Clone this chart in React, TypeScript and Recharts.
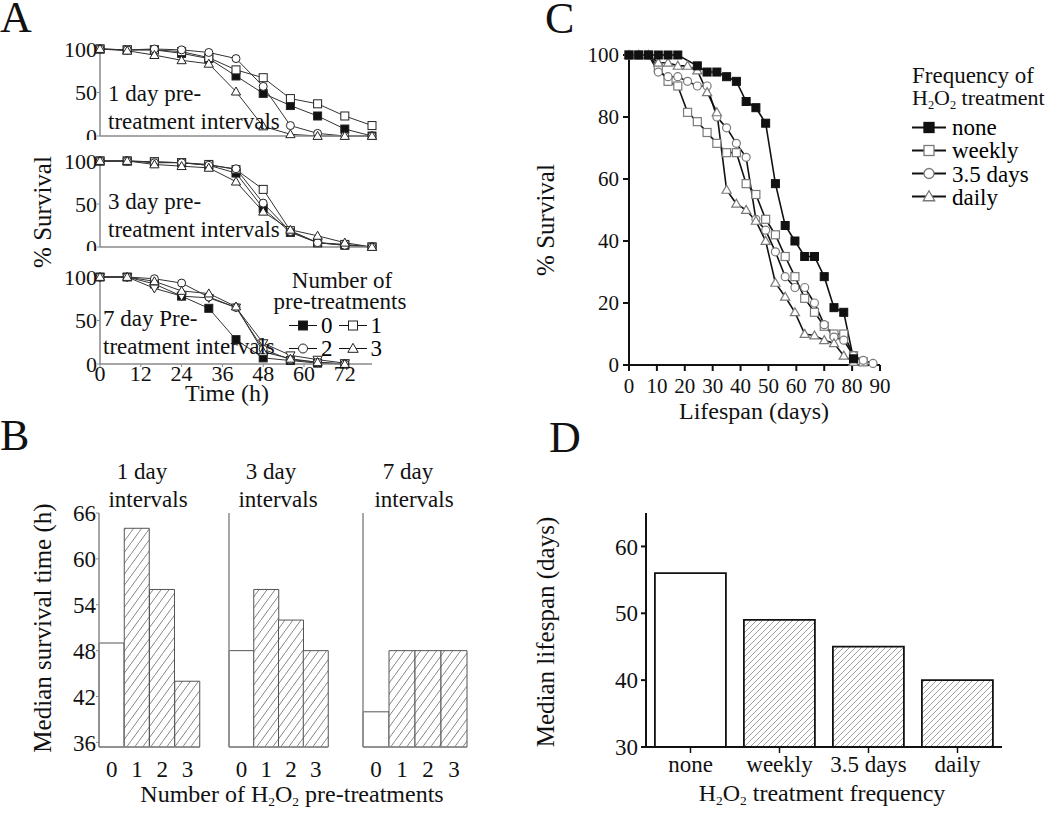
import React from "react";
import { LineChart, Line, BarChart, Bar, Cell, XAxis, YAxis } from "recharts";

const FONT = "'Liberation Serif', 'Times New Roman', serif";

// ---- Panel A: survival after H2O2 pre-treatments (time in h) ----
const hoursA = [0, 8, 16, 24, 32, 40, 48, 56, 64, 72, 80];
const hoursA7 = [0, 8, 16, 24, 32, 40, 48, 56, 64, 72];
const hourTicks = [0, 12, 24, 36, 48, 60, 72];

const day1None = [100, 99, 99, 95, 89, 69, 49, 35, 23, 8, 0];
const day1One = [100, 99, 99, 97, 90, 76, 67, 43, 37, 23, 12];
const day1Two = [100, 99, 100, 99, 96, 89, 57, 12, 3, 0, 0];
const day1Three = [100, 98, 93, 87, 83, 51, 11, 2, 0, 0, 0];

const day3None = [100, 100, 99, 98, 95, 86, 45, 17, 5, 2, 0];
const day3One = [100, 100, 99, 98, 96, 90, 67, 19, 5, 3, 0];
const day3Two = [100, 100, 98, 98, 95, 91, 51, 18, 5, 2, 0];
const day3Three = [100, 100, 96, 94, 92, 76, 41, 20, 13, 5, 0];

const day7None = [100, 100, 92, 78, 64, 28, 7, 4, 1, 0];
const day7One = [100, 100, 87, 78, 76, 65, 24, 10, 5, 1];
const day7Two = [100, 100, 98, 93, 77, 65, 17, 5, 2, 0];
const day7Three = [100, 100, 95, 84, 81, 66, 14, 6, 2, 0];

// ---- Panel B: median survival time (h) ----
const pretreatCats = ["0", "1", "2", "3"];
const median1Day = [49, 64, 56, 44];
const median3Day = [48, 56, 52, 48];
const median7Day = [40, 48, 48, 48];
const medianTicks = [36, 42, 48, 54, 60, 66];

// ---- Panel C: lifespan survival (days) ----
const daysC = [0, 3.5, 7, 10.5, 14, 17.5, 21, 24.5, 28, 31.5, 35, 38.5, 42, 45.5, 49, 52.5, 56, 59.5, 63, 66.5, 70, 73.5, 77, 80.5, 84, 87.5];
const noneC = [100, 100, 100, 100, 100, 100, null, 96.5, 94.5, 94.5, 93, 91.5, 85, 83, 78, 58.5, 45, 40, 35, 35, 28.5, 18.5, 17, 2, null, null];
const weeklyC = [100, 100, 100, 96, 91.5, 90, 81.5, 78.5, 75, 71.5, 68.5, 68.5, 58.5, 55, 47, 42, 35, 28.5, 21.5, 17, 12.5, 10, 10, 3, 1, null];
const halfWeekC = [100, 100, 100, 94.5, 93, 93, 91.5, 90, 90, 80, 76.5, 71.5, 67, 47, 43.5, 36.5, 28.5, 25, 25, 20, 13, 9, 8, 3, 1.5, 0.5];
const dailyC = [100, 100, 100, 97.5, 97.5, 96.5, 96.5, 95, 88, 81.5, 56.5, 52, 50, 46.5, 40, 26.5, 22, 17, 10, 9.5, 8, 7, 3, 1, null, null];
const dayTicks = [0, 10, 20, 30, 40, 50, 60, 70, 80, 90];
const survTicks = [0, 20, 40, 60, 80, 100];

// ---- Panel D: median lifespan (days) ----
const freqCats = ["none", "weekly", "3.5 days", "daily"];
const medianLifespan = [56, 49, 45, 40];

const GRAY_AX = "#8a8a8a";

type Shape = "square" | "circle" | "triangle" | "triangleDown";

function Marker({ cx, cy, shape, size, fill, stroke, sw }: any) {
  if (cx == null || cy == null || isNaN(cx) || isNaN(cy)) return null;
  const h = size / 2;
  if (shape === "square")
    return <rect x={cx - h} y={cy - h} width={size} height={size} fill={fill} stroke={stroke} strokeWidth={sw} />;
  if (shape === "circle") return <circle cx={cx} cy={cy} r={h} fill={fill} stroke={stroke} strokeWidth={sw} />;
  const up = shape === "triangle" ? 1 : -1;
  const pts = `${cx},${cy - up * h * 1.15} ${cx + h * 1.15},${cy + up * h * 0.85} ${cx - h * 1.15},${cy + up * h * 0.85}`;
  return <polygon points={pts} fill={fill} stroke={stroke} strokeWidth={sw} />;
}

const dotOf = (shape: Shape, size: number, fill: string, stroke: string, sw: number) => (p: any) => (
  <Marker key={`${p.dataKey}-${p.index}`} cx={p.cx} cy={p.cy} shape={shape} size={size} fill={fill} stroke={stroke} sw={sw} />
);

function Txt({ x, y, size = 23, anchor = "middle", rotate = false, children }: any) {
  const tx = anchor === "middle" ? "-50%" : anchor === "end" ? "-100%" : "0";
  return (
    <div
      style={{
        position: "absolute",
        left: x,
        top: y,
        transform: `translate(${tx}, -50%)${rotate ? " rotate(-90deg)" : ""}`,
        fontFamily: FONT,
        fontSize: size,
        lineHeight: 1,
        whiteSpace: "nowrap",
        color: "#111",
      }}
    >
      {children}
    </div>
  );
}

const Sub = ({ children }: any) => (
  <sub style={{ fontSize: "0.56em", verticalAlign: "-0.3em", lineHeight: 0 }}>{children}</sub>
);

function Sample({ shape, fill, stroke, sw, size, w = 30, lineW = 1 }: any) {
  return (
    <svg width={w} height={16} style={{ display: "block" }}>
      <line x1={0} y1={8} x2={w} y2={8} stroke="#111" strokeWidth={lineW} />
      <Marker cx={w / 2} cy={8} shape={shape} size={size} fill={fill} stroke={stroke} sw={sw} />
    </svg>
  );
}

// Panel A subplot
const A_LEFT = 100;
const A_W = 272;
const A_YW = 40;

type SeriesDef = { key: string; shape: Shape; fill: string };

const seriesA: SeriesDef[] = [
  { key: "s0", shape: "square", fill: "#111" },
  { key: "s1", shape: "square", fill: "#fff" },
  { key: "s2", shape: "circle", fill: "#fff" },
  { key: "s3", shape: "triangle", fill: "#fff" },
];

function SurvivalA({ rows, top, bottom, series, showTime }: any) {
  const plotH = bottom - top;
  const xh = showTime ? 30 : 4;
  const mt = 10;
  const tickStyle = { fontSize: 22, fontFamily: FONT, fill: "#111" };
  return (
    <div style={{ position: "absolute", left: A_LEFT - A_YW, top: top - mt }}>
      <LineChart
        width={A_YW + A_W + 12}
        height={mt + plotH + xh}
        data={rows}
        margin={{ top: mt, right: 12, bottom: 0, left: 0 }}
      >
        <XAxis
          type="number"
          dataKey="t"
          domain={[0, 80]}
          ticks={hourTicks}
          interval={0}
          height={xh}
          axisLine={{ stroke: GRAY_AX, strokeWidth: 1.5 }}
          tickLine={{ stroke: GRAY_AX }}
          tickSize={3}
          tickMargin={-2}
          tick={showTime ? tickStyle : false}
        />
        <YAxis
          type="number"
          domain={[0, 100]}
          ticks={[0, 50, 100]}
          interval={0}
          width={A_YW}
          axisLine={{ stroke: GRAY_AX, strokeWidth: 1.5 }}
          tickLine={{ stroke: GRAY_AX }}
          tickSize={3}
          tickMargin={0}
          tick={tickStyle}
        />
        {series.map((s: SeriesDef) => (
          <Line
            key={s.key}
            dataKey={s.key}
            stroke="#333"
            strokeWidth={1}
            connectNulls
            dot={dotOf(s.shape, 8, s.fill, "#222", 1)}
            activeDot={false}
            isAnimationActive={false}
          />
        ))}
      </LineChart>
    </div>
  );
}

// Panel B subplot
const B_TOP = 513;
const B_H = 234;

function MedianB({ values, left, width, showLabels }: any) {
  const rows = pretreatCats.map((n, i) => ({ n, v: values[i] }));
  const yw = showLabels ? 40 : 8;
  const mt = 14;
  const tickStyle = { fontSize: 23, fontFamily: FONT, fill: "#111" };
  return (
    <div style={{ position: "absolute", left: left - yw, top: B_TOP - mt }}>
      <BarChart
        width={yw + width + 2}
        height={mt + B_H + 34}
        data={rows}
        margin={{ top: mt, right: 2, bottom: 0, left: 0 }}
        barCategoryGap={0}
      >
        <XAxis
          dataKey="n"
          height={34}
          axisLine={{ stroke: GRAY_AX, strokeWidth: 1.5 }}
          tickLine={false}
          tickMargin={8}
          interval={0}
          tick={tickStyle}
        />
        <YAxis
          type="number"
          domain={[35.4, 66]}
          ticks={medianTicks}
          interval={0}
          width={yw}
          axisLine={{ stroke: GRAY_AX, strokeWidth: 1.5 }}
          tickLine={{ stroke: GRAY_AX }}
          tickSize={3}
          tickMargin={0}
          tick={showLabels ? tickStyle : false}
        />
        <Bar dataKey="v" stroke="#555" strokeWidth={1} isAnimationActive={false}>
          {rows.map((r, i) => (
            <Cell key={r.n} fill={i === 0 ? "#fff" : "url(#hatchB)"} />
          ))}
        </Bar>
      </BarChart>
    </div>
  );
}

// Panel C / D geometry
const C_LEFT = 629;
const C_W = 251;
const D_LEFT = 646;
const D_W = 356;

export default function App() {
  const rowsA1 = hoursA.map((t, i) => ({ t, s0: day1None[i], s1: day1One[i], s2: day1Two[i], s3: day1Three[i] }));
  const rowsA3 = hoursA.map((t, i) => ({ t, s0: day3None[i], s1: day3One[i], s2: day3Two[i], s3: day3Three[i] }));
  const rowsA7 = hoursA7.map((t, i) => ({ t, s0: day7None[i], s1: day7One[i], s2: day7Two[i], s3: day7Three[i] }));
  const seriesA7: SeriesDef[] = [
    { key: "s0", shape: "square", fill: "#111" },
    { key: "s1", shape: "triangleDown", fill: "#fff" },
    { key: "s2", shape: "circle", fill: "#fff" },
    { key: "s3", shape: "triangle", fill: "#fff" },
  ];

  const rowsC = daysC.map((d, i) => ({ d, none: noneC[i], weekly: weeklyC[i], half: halfWeekC[i], daily: dailyC[i] }));
  const rowsD = freqCats.map((f, i) => ({ f, v: medianLifespan[i] }));
  const tickC = { fontSize: 21, fontFamily: FONT, fill: "#111" };
  const tickD = { fontSize: 23, fontFamily: FONT, fill: "#111" };
  const openC = "#7a7a7a";

  const legendA = [
    [
      { label: "0", shape: "square", fill: "#111" },
      { label: "1", shape: "square", fill: "#fff" },
    ],
    [
      { label: "2", shape: "circle", fill: "#fff" },
      { label: "3", shape: "triangle", fill: "#fff" },
    ],
  ];
  const legendC = [
    { label: "none", shape: "square", fill: "#111", stroke: "#111" },
    { label: "weekly", shape: "square", fill: "#fff", stroke: openC },
    { label: "3.5 days", shape: "circle", fill: "#fff", stroke: openC },
    { label: "daily", shape: "triangle", fill: "#fff", stroke: openC },
  ];

  return (
    <div style={{ position: "absolute", left: 0, top: 0, width: 1050, height: 813, background: "#fff", overflow: "hidden" }}>
      <svg width={0} height={0} style={{ position: "absolute" }}>
        <defs>
          <pattern id="hatchB" patternUnits="userSpaceOnUse" width={8} height={11}>
            <rect width={8} height={11} fill="#fff" />
            <path d="M-1,12.375 L9,-1.375" stroke="#777" strokeWidth={0.9} />
          </pattern>
          <pattern id="hatchD" patternUnits="userSpaceOnUse" width={6} height={6}>
            <rect width={6} height={6} fill="#fff" />
            <path d="M-1,7 L7,-1" stroke="#888" strokeWidth={0.8} />
          </pattern>
        </defs>
      </svg>

      {/* Panel letters */}
      <Txt x={0} y={18} size={44} anchor="start">A</Txt>
      <Txt x={0} y={436} size={44} anchor="start">B</Txt>
      <Txt x={545} y={19} size={44} anchor="start">C</Txt>
      <Txt x={549} y={438} size={44} anchor="start">D</Txt>

      {/* Panel A */}
      <SurvivalA rows={rowsA1} top={49} bottom={136} series={seriesA} showTime={false} />
      <SurvivalA rows={rowsA3} top={161} bottom={247} series={seriesA} showTime={false} />
      <SurvivalA rows={rowsA7} top={277} bottom={364} series={seriesA7} showTime />
      <Txt x={108} y={93} anchor="start">1 day pre-</Txt>
      <Txt x={108} y={121} anchor="start">treatment intervals</Txt>
      <Txt x={108} y={201} anchor="start">3 day pre-</Txt>
      <Txt x={108} y={229} anchor="start">treatment intervals</Txt>
      <Txt x={103} y={318} anchor="start">7 day Pre-</Txt>
      <Txt x={103} y={346} anchor="start">treatment intervals</Txt>
      <Txt x={42} y={212} size={25} rotate>% Survival</Txt>
      <Txt x={227} y={393} size={24}>Time (h)</Txt>
      <Txt x={342} y={280}>Number of</Txt>
      <Txt x={340} y={301}>pre-treatments</Txt>
      {legendA.map((row, r) => (
        <div
          key={r}
          style={{ position: "absolute", left: 289, top: 325 + r * 23, transform: "translateY(-50%)", display: "flex", alignItems: "center", fontFamily: FONT, fontSize: 23, lineHeight: 1 }}
        >
          {row.map((it) => (
            <React.Fragment key={it.label}>
              <Sample shape={it.shape} fill={it.fill} stroke="#222" sw={1} size={9} w={28} />
              <span style={{ margin: "0 6px 0 4px" }}>{it.label}</span>
            </React.Fragment>
          ))}
        </div>
      ))}

      {/* Panel B */}
      <MedianB values={median1Day} left={99} width={101} showLabels />
      <MedianB values={median3Day} left={229} width={99} showLabels={false} />
      <MedianB values={median7Day} left={363} width={104} showLabels={false} />
      <Txt x={142} y={471}>1 day</Txt>
      <Txt x={148} y={499}>intervals</Txt>
      <Txt x={271} y={471}>3 day</Txt>
      <Txt x={278} y={499}>intervals</Txt>
      <Txt x={408} y={471}>7 day</Txt>
      <Txt x={414} y={499}>intervals</Txt>
      <Txt x={42} y={628} size={25} rotate>Median survival time (h)</Txt>
      <Txt x={292} y={794} size={24}>
        Number of H<Sub>2</Sub>O<Sub>2</Sub> pre-treatments
      </Txt>

      {/* Panel C */}
      <div style={{ position: "absolute", left: C_LEFT - 60, top: 55 - 10 }}>
        <LineChart width={60 + C_W + 16} height={10 + 310 + 40} data={rowsC} margin={{ top: 10, right: 16, bottom: 0, left: 0 }}>
          <XAxis
            type="number"
            dataKey="d"
            domain={[0, 90]}
            ticks={dayTicks}
            interval={0}
            height={40}
            axisLine={{ stroke: "#111", strokeWidth: 2 }}
            tickLine={{ stroke: "#111", strokeWidth: 2 }}
            tickSize={6}
            tickMargin={7}
            tick={tickC}
          />
          <YAxis
            type="number"
            domain={[0, 100]}
            ticks={survTicks}
            interval={0}
            width={60}
            axisLine={{ stroke: "#111", strokeWidth: 2 }}
            tickLine={{ stroke: "#111", strokeWidth: 2 }}
            tickSize={6}
            tickMargin={4}
            tick={tickC}
          />
          <Line dataKey="weekly" stroke="#111" strokeWidth={1.6} connectNulls dot={dotOf("square", 8, "#fff", openC, 1.2)} activeDot={false} isAnimationActive={false} />
          <Line dataKey="half" stroke="#111" strokeWidth={1.6} connectNulls dot={dotOf("circle", 8, "#fff", openC, 1.2)} activeDot={false} isAnimationActive={false} />
          <Line dataKey="daily" stroke="#111" strokeWidth={1.6} connectNulls dot={dotOf("triangle", 8, "#fff", openC, 1.2)} activeDot={false} isAnimationActive={false} />
          <Line dataKey="none" stroke="#111" strokeWidth={1.6} connectNulls dot={dotOf("square", 8, "#111", "#111", 1)} activeDot={false} isAnimationActive={false} />
        </LineChart>
      </div>
      <Txt x={545} y={220} size={25} rotate>% Survival</Txt>
      <Txt x={754} y={411} size={24}>Lifespan (days)</Txt>
      <Txt x={912} y={75} anchor="start">Frequency of</Txt>
      <Txt x={912} y={98} size={22} anchor="start">
        H<Sub>2</Sub>O<Sub>2</Sub> treatment
      </Txt>
      {legendC.map((it, i) => (
        <div
          key={it.label}
          style={{ position: "absolute", left: 912, top: 127 + i * 23.3, transform: "translateY(-50%)", display: "flex", alignItems: "center", fontFamily: FONT, fontSize: 23, lineHeight: 1 }}
        >
          <Sample shape={it.shape} fill={it.fill} stroke={it.stroke} sw={1.3} size={10} w={34} lineW={1.8} />
          <span style={{ marginLeft: 6 }}>{it.label}</span>
        </div>
      ))}

      {/* Panel D */}
      <div style={{ position: "absolute", left: D_LEFT - 60, top: 513 - 10 }}>
        <BarChart width={60 + D_W + 6} height={10 + 234 + 36} data={rowsD} margin={{ top: 10, right: 6, bottom: 0, left: 0 }} barCategoryGap="10%">
          <XAxis
            dataKey="f"
            height={36}
            interval={0}
            axisLine={{ stroke: "#111", strokeWidth: 2 }}
            tickLine={{ stroke: "#111", strokeWidth: 1.5 }}
            tickSize={6}
            tickMargin={3}
            tick={tickD}
          />
          <YAxis
            type="number"
            domain={[30, 65]}
            ticks={[30, 40, 50, 60]}
            interval={0}
            width={60}
            axisLine={{ stroke: "#111", strokeWidth: 2 }}
            tickLine={{ stroke: "#111", strokeWidth: 2 }}
            tickSize={5}
            tickMargin={3}
            tick={tickD}
          />
          <Bar dataKey="v" stroke="#111" strokeWidth={1.8} isAnimationActive={false}>
            {rowsD.map((r, i) => (
              <Cell key={r.f} fill={i === 0 ? "#fff" : "url(#hatchD)"} />
            ))}
          </Bar>
        </BarChart>
      </div>
      <Txt x={545} y={632} size={25} rotate>Median lifespan (days)</Txt>
      <Txt x={822} y={793} size={24}>
        H<Sub>2</Sub>O<Sub>2</Sub> treatment frequency
      </Txt>
    </div>
  );
}
